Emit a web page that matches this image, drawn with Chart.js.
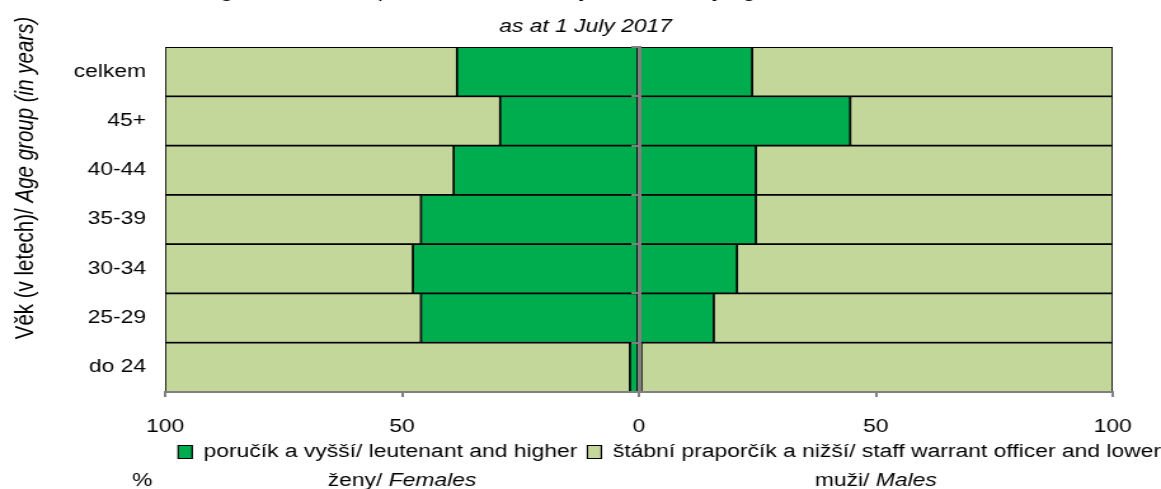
<!DOCTYPE html>
<html>
<head>
<meta charset="utf-8">
<script src="https://cdn.jsdelivr.net/npm/chart.js@4"></script>
<style>
  html, body { margin: 0; padding: 0; background: #fff; overflow: hidden; }
  /* the reference is a horizontally stretched picture, so draw narrow and stretch */
  #wrap {
    position: absolute; left: 0; top: -25px;
    width: 914px; height: 514px;
    transform: scaleX(1.2702); transform-origin: 0 0;
  }
</style>
</head>
<body>
<div id="wrap"><canvas id="chart"></canvas></div>

<script>
  const ageGroups = ['celkem', '45+', '40-44', '35-39', '30-34', '25-29', 'do 24'];

  // shares in % (each sex sums to 100)
  const femaleOfficers = [38.4, 29.3, 39.1, 46.0, 47.7, 46.0, 1.9];
  const femaleLower = [61.6, 70.7, 60.9, 54.0, 52.3, 54.0, 98.1];
  const maleOfficers = [23.9, 44.6, 24.7, 24.7, 20.7, 15.8, 0.5];
  const maleLower = [76.1, 55.4, 75.3, 75.3, 79.3, 84.2, 99.5];

  const seriesNames = [
    'poručík a vyšší/ leutenant and higher',
    'štábní praporčík a nižší/ staff warrant officer and lower'
  ];
  const titleLines = [
    'Higher and lower positions in the Army of the CR by age of women and men',
    'as at 1 July 2017'
  ];

  const fontFamily = '"Liberation Sans", Arial, sans-serif';
  const darkGreen = '#00AD4E';
  const lightGreen = '#C4D79B';
  const axisGrey = '#808080';

  Chart.defaults.font.family = fontFamily;
  Chart.defaults.font.size = 18;
  Chart.defaults.color = '#000';

  //draws normal + italic pieces as one centred line
  const drawRuns = function (ctx, runs, x, y) {
    let total = 0;
    runs.forEach(function (r) {
      ctx.font = r.font;
      r.w = ctx.measureText(r.text).width;
      total += r.w;
    });
    let cx = x - total / 2;
    ctx.textAlign = 'left';
    ctx.textBaseline = 'middle';
    ctx.fillStyle = '#000';
    runs.forEach(function (r) {
      ctx.font = r.font;
      ctx.fillText(r.text, cx, y);
      cx += r.w;
    });
  };

  const normalFont = '18px ' + fontFamily;
  const italicFont = 'italic 18px ' + fontFamily;
  const axisTitleNormal = '20.5px ' + fontFamily;
  const axisTitleItalic = 'italic 20.5px ' + fontFamily;

  const extraTextPlugin = {
    id: 'extraText',
    afterDraw(chart) {
      const ctx = chart.ctx;
      const xs = chart.scales.x;
      ctx.save();
      // y axis title, rotated
      ctx.translate(20, 203);
      ctx.rotate(-Math.PI / 2);
      drawRuns(ctx, [
        { text: 'Věk (v letech)/ ', font: axisTitleNormal },
        { text: 'Age group (in years)', font: axisTitleItalic }
      ], 0, 0);
      ctx.restore();

      ctx.save();
      const y = 506;
      drawRuns(ctx, [{ text: '%', font: normalFont }], 112, y);
      drawRuns(ctx, [
        { text: 'ženy/ ', font: normalFont },
        { text: 'Females', font: italicFont }
      ], xs.getPixelForValue(-50), y);
      drawRuns(ctx, [
        { text: 'muži/ ', font: normalFont },
        { text: 'Males', font: italicFont }
      ], xs.getPixelForValue(50), y);
      ctx.restore();
    }
  };

  const barDefaults = {
    borderColor: '#000',
    borderWidth: 1.2,
    borderSkipped: false,
    barPercentage: 1,
    categoryPercentage: 1
  };

  new Chart(document.getElementById('chart'), {
    type: 'bar',
    data: {
      labels: ageGroups,
      datasets: [
        Object.assign({ label: seriesNames[0], data: femaleOfficers.map(v => -v), backgroundColor: darkGreen }, barDefaults),
        Object.assign({ label: seriesNames[1], data: femaleLower.map(v => -v), backgroundColor: lightGreen }, barDefaults),
        Object.assign({ label: seriesNames[0], data: maleOfficers, backgroundColor: darkGreen }, barDefaults),
        Object.assign({ label: seriesNames[1], data: maleLower, backgroundColor: lightGreen }, barDefaults)
      ]
    },
    options: {
      indexAxis: 'y',
      responsive: true,
      maintainAspectRatio: false,
      animation: false,
      layout: { padding: { left: 0, right: -8, top: 0, bottom: 18 } },
      scales: {
        x: {
          stacked: true,
          min: -100,
          max: 100,
          afterFit: function (scale) { scale.height = 43; },
          ticks: {
            stepSize: 50,
            padding: 19,
            callback: function (value) { return Math.abs(value); }
          },
          grid: {
            drawOnChartArea: false,
            tickLength: 5,
            color: axisGrey,
            lineWidth: 2,
            z: 1
          },
          border: { color: axisGrey, width: 2, z: 1 }
        },
        y: {
          stacked: true,
          afterFit: function (scale) { scale.width = 130; },
          ticks: { padding: 15 },
          grid: { display: false, drawTicks: false },
          border: { display: false }
        },
        // grey axis at zero with the small tick marks
        yZero: {
          type: 'category',
          axis: 'y',
          labels: ageGroups,
          position: { x: 0 },
          offset: true,
          ticks: { display: false },
          grid: {
            drawOnChartArea: false,
            offset: true,
            tickLength: 5,
            color: axisGrey,
            lineWidth: 2,
            z: 1
          },
          border: { color: axisGrey, width: 3, z: 1 }
        },
        // empty right strip so the legend can run to the edge
        yRight: {
          type: 'linear',
          position: 'right',
          afterFit: function (scale) { scale.width = 46; },
          ticks: { display: false },
          grid: { display: false, drawTicks: false },
          border: { display: false }
        }
      },
      plugins: {
        title: {
          display: true,
          text: titleLines,
          font: { size: 18, style: 'italic', weight: 'normal', lineHeight: 1.94 },
          padding: { top: -0.85, bottom: 3.05 }
        },
        legend: {
          position: 'bottom',
          align: 'end',
          labels: {
            boxWidth: 11,
            boxHeight: 13,
            padding: 8,
            filter: function (item) { return item.datasetIndex < 2; }
          }
        },
        tooltip: { enabled: false }
      }
    },
    plugins: [extraTextPlugin]
  });
</script>
</body>
</html>
